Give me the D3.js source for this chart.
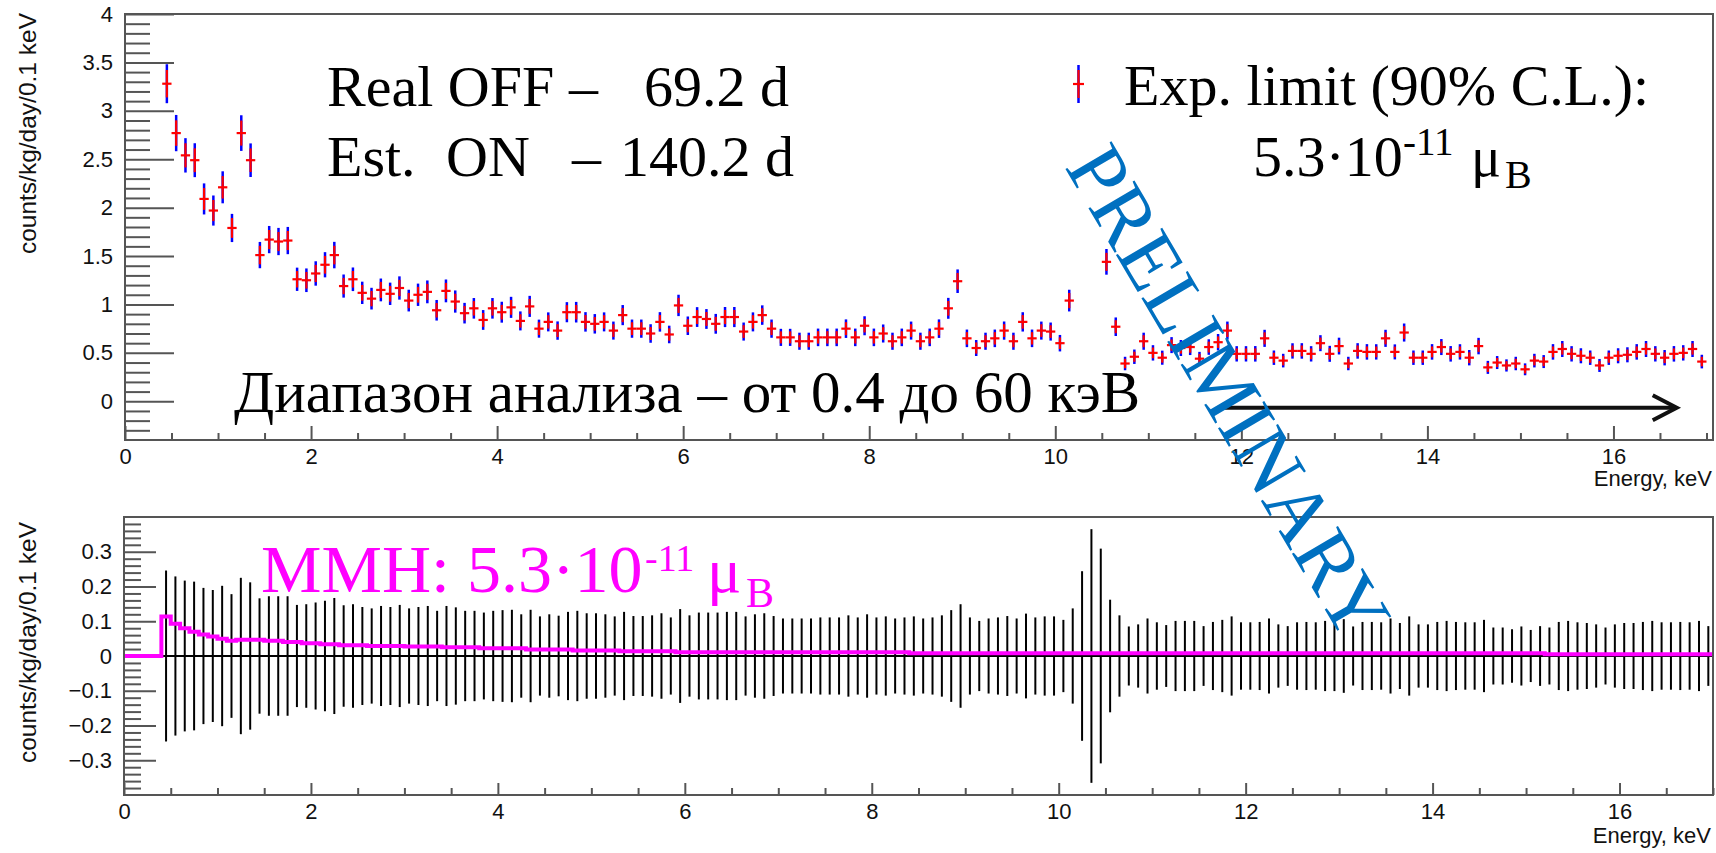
<!DOCTYPE html>
<html>
<head>
<meta charset="utf-8">
<style>
body { margin: 0; background: #fff; }
svg { display: block; }
.serif { font-family: "Liberation Serif", "Times New Roman", serif; fill: #000; }
.sans { font-family: "Liberation Sans", Arial, sans-serif; fill: #111; }
.axis text { font-family: "Liberation Sans", Arial, sans-serif; font-size: 22px; fill: #111; }
.axis line { stroke: #555; stroke-width: 2; }
</style>
</head>
<body>
<svg id="chart" width="1716" height="853"></svg>
<script src="https://cdn.jsdelivr.net/npm/d3@7/dist/d3.min.js"></script>
<script>
// 0.1 keV bins starting at 0.4 keV
var binStart = 0.4, binWidth = 0.1;

// counts/kg/day/0.1 keV, null = bin not shown
var offRate = [
  3.28, 2.77, 2.54, 2.49, 2.09, 1.97, 2.21, 1.79, 2.77, 2.49,
  1.51, 1.67, 1.65, 1.66, 1.26, 1.25, 1.32, 1.41, 1.51, 1.19,
  1.26, 1.12, 1.06, 1.15, 1.11, 1.17, 1.04, 1.10, 1.13, 0.94,
  1.14, 1.03, 0.91, 0.96, 0.84, 0.96, 0.92, 0.97, 0.83, 0.98,
  0.75, 0.82, 0.73, 0.92, 0.92, 0.82, 0.80, 0.82, 0.73, 0.89,
  0.75, 0.75, 0.70, 0.82, 0.69, 0.99, 0.78, 0.87, 0.85, 0.80,
  0.87, 0.87, 0.72, 0.82, 0.89, 0.75, 0.66, 0.66, 0.62, 0.62,
  0.66, 0.66, 0.66, 0.75, 0.66, 0.78, 0.66, 0.70, 0.62, 0.66,
  0.73, 0.62, 0.66, 0.75, 0.96, 1.24, 0.65, 0.55, 0.62, 0.65,
  0.73, 0.62, 0.82, 0.65, 0.73, 0.72, 0.60, 1.04, null, null,
  null, 1.44, 0.77, 0.39, 0.46, 0.62, 0.50, 0.45, 0.58, 0.55,
  0.56, 0.44, 0.56, 0.61, 0.73, 0.49, 0.49, 0.49, 0.65, 0.45,
  0.42, 0.52, 0.52, 0.49, 0.60, 0.49, 0.57, 0.39, 0.52, 0.51,
  0.51, 0.65, 0.51, 0.71, 0.45, 0.45, 0.51, 0.56, 0.49, 0.51,
  0.45, 0.57, 0.35, 0.40, 0.37, 0.39, 0.33, 0.42, 0.41, 0.51,
  0.54, 0.49, 0.47, 0.45, 0.37, 0.45, 0.47, 0.48, 0.51, 0.54,
  0.49, 0.45, 0.49, 0.50, 0.54, 0.41
];

// error of ON - OFF difference (lower panel)
var diffErr = [
  0.246, 0.229, 0.217, 0.214, 0.196, 0.190, 0.202, 0.178, 0.225, 0.212,
  0.166, 0.172, 0.172, 0.172, 0.147, 0.149, 0.154, 0.159, 0.167, 0.146,
  0.149, 0.141, 0.137, 0.144, 0.141, 0.147, 0.137, 0.141, 0.144, 0.130,
  0.144, 0.140, 0.130, 0.130, 0.125, 0.130, 0.132, 0.133, 0.120, 0.133,
  0.114, 0.120, 0.116, 0.127, 0.130, 0.123, 0.123, 0.120, 0.114, 0.127,
  0.115, 0.115, 0.117, 0.123, 0.111, 0.135, 0.117, 0.125, 0.125, 0.125,
  0.127, 0.127, 0.114, 0.120, 0.123, 0.115, 0.108, 0.108, 0.108, 0.108,
  0.111, 0.111, 0.111, 0.117, 0.111, 0.120, 0.111, 0.114, 0.108, 0.111,
  0.114, 0.108, 0.111, 0.117, 0.132, 0.149, 0.111, 0.101, 0.108, 0.111,
  0.115, 0.108, 0.122, 0.111, 0.114, 0.114, 0.104, 0.137, 0.244, 0.365,
  0.309, 0.162, 0.117, 0.085, 0.091, 0.108, 0.097, 0.089, 0.101, 0.101,
  0.101, 0.086, 0.098, 0.104, 0.114, 0.097, 0.097, 0.098, 0.108, 0.091,
  0.086, 0.097, 0.098, 0.097, 0.101, 0.101, 0.106, 0.085, 0.098, 0.098,
  0.097, 0.108, 0.095, 0.114, 0.091, 0.091, 0.098, 0.101, 0.098, 0.097,
  0.097, 0.104, 0.082, 0.082, 0.077, 0.085, 0.075, 0.086, 0.082, 0.098,
  0.101, 0.097, 0.095, 0.091, 0.082, 0.091, 0.095, 0.095, 0.098, 0.101,
  0.097, 0.097, 0.098, 0.097, 0.101, 0.086
];

// expected magnetic moment signal, [step start keV, value]
var mmhSteps = [
  [0, 0], [0.4, 0.114], [0.5, 0.093], [0.6, 0.080], [0.7, 0.070], [0.8, 0.062],
  [0.9, 0.056], [1.0, 0.050], [1.1, 0.044], [1.2, 0.047], [1.5, 0.044], [1.7, 0.040],
  [1.9, 0.037], [2.1, 0.034], [2.3, 0.031], [2.6, 0.029], [3.0, 0.027], [3.4, 0.025],
  [3.8, 0.022], [4.3, 0.019], [4.8, 0.016], [5.3, 0.014], [5.9, 0.011], [8.4, 0.008],
  [15.2, 0.005], [17, 0.005]
];

var daysOff = 69.2, daysOn = 140.2;

var topYTicks = [0, 0.5, 1, 1.5, 2, 2.5, 3, 3.5, 4];
var botYTicks = [-0.3, -0.2, -0.1, 0, 0.1, 0.2, 0.3];
var xTicks = [0, 2, 4, 6, 8, 10, 12, 14, 16];

var svg = d3.select("#chart");

var xTop = d3.scaleLinear().domain([0, 17.07]).range([125, 1713]);
var yTop = d3.scaleLinear().domain([-0.4, 4]).range([440, 14]);
var xBot = d3.scaleLinear().domain([0, 17]).range([124, 1713]);
var yBot = d3.scaleLinear().domain([-0.4, 0.4]).range([795, 517]);

var bins = offRate.map(function(v, i){
  var e = diffErr[i];
  return {
    x: binStart + binWidth * (i + 0.5),
    rate: v,
    err: e,
    errOff: e * Math.sqrt(daysOn / (daysOn + daysOff)),
    errOn: e * Math.sqrt(daysOff / (daysOn + daysOff))
  };
});

var fmt = d3.format("~g");
var xMinor = d3.range(1, 35).filter(function(k){ return k % 4 != 0; }).map(function(k){ return k * 0.5; });

function drawAxes(x, y, yMajor, yMinor, ySize, xSize){
  var g;
  g = svg.append("g").attr("class", "axis").attr("transform", "translate(" + x.range()[0] + ",0)")
    .call(d3.axisLeft(y).tickValues(yMinor).tickSize(-ySize[1]).tickFormat(""));
  g.select(".domain").remove();
  g = svg.append("g").attr("class", "axis").attr("transform", "translate(" + x.range()[0] + ",0)")
    .call(d3.axisLeft(y).tickValues(yMajor).tickSize(-ySize[0]).tickPadding(12).tickFormat(fmt));
  g.select(".domain").remove();

  g = svg.append("g").attr("class", "axis").attr("transform", "translate(0," + y.range()[0] + ")")
    .call(d3.axisBottom(x).tickValues(xMinor.filter(function(v){ return v <= x.domain()[1]; })).tickSize(-xSize[1]).tickFormat(""));
  g.select(".domain").remove();
  g = svg.append("g").attr("class", "axis").attr("transform", "translate(0," + y.range()[0] + ")")
    .call(d3.axisBottom(x).tickValues(xTicks).tickSize(-xSize[0]).tickPadding(8).tickFormat(fmt));
  g.select(".domain").remove();
}

var topMinor = d3.range(-3, 40).filter(function(k){ return k % 5 != 0; }).map(function(k){ return k / 10; });
var botMinor = d3.range(-19, 20).filter(function(k){ return k % 5 != 0; }).map(function(k){ return k * 0.02; });

drawAxes(xTop, yTop, topYTicks, topMinor, [49, 25], [14, 7]);
drawAxes(xBot, yBot, botYTicks, botMinor, [32, 17], [12, 7]);

// upper panel points
var pts = svg.append("g");
var shown = bins.filter(function(d){ return d.rate != null; });

pts.selectAll(".eoff").data(shown).enter().append("line")
  .attr("x1", function(d){ return xTop(d.x); })
  .attr("x2", function(d){ return xTop(d.x); })
  .attr("y1", function(d){ return yTop(d.rate - d.errOff); })
  .attr("y2", function(d){ return yTop(d.rate + d.errOff); })
  .attr("stroke", "#0000ff").attr("stroke-width", 2.5);

pts.selectAll(".eon").data(shown).enter().append("line")
  .attr("x1", function(d){ return xTop(d.x); })
  .attr("x2", function(d){ return xTop(d.x); })
  .attr("y1", function(d){ return yTop(d.rate - d.errOn); })
  .attr("y2", function(d){ return yTop(d.rate + d.errOn); })
  .attr("stroke", "#ff0000").attr("stroke-width", 2.2);

pts.selectAll(".ex").data(shown).enter().append("line")
  .attr("x1", function(d){ return xTop(d.x - binWidth / 2); })
  .attr("x2", function(d){ return xTop(d.x + binWidth / 2); })
  .attr("y1", function(d){ return yTop(d.rate); })
  .attr("y2", function(d){ return yTop(d.rate); })
  .attr("stroke", "#ff0000").attr("stroke-width", 2.2);

// lower panel
var low = svg.append("g");
low.append("line")
  .attr("x1", xBot(binStart)).attr("x2", xBot(17))
  .attr("y1", yBot(0)).attr("y2", yBot(0))
  .attr("stroke", "#000").attr("stroke-width", 1.8);

low.selectAll(".err").data(bins).enter().append("line")
  .attr("x1", function(d){ return xBot(d.x); })
  .attr("x2", function(d){ return xBot(d.x); })
  .attr("y1", function(d){ return yBot(-d.err); })
  .attr("y2", function(d){ return yBot(d.err); })
  .attr("stroke", "#000").attr("stroke-width", 2);

var stepLine = d3.line()
  .x(function(d){ return xBot(d[0]); })
  .y(function(d){ return yBot(d[1]); })
  .curve(d3.curveStepAfter);

low.append("path").datum(mmhSteps)
  .attr("d", stepLine)
  .attr("fill", "none").attr("stroke", "#ff00ff").attr("stroke-width", 4);

// frames
[[xTop, yTop], [xBot, yBot]].forEach(function(p){
  svg.append("rect")
    .attr("x", p[0].range()[0]).attr("y", p[1].range()[1])
    .attr("width", p[0].range()[1] - p[0].range()[0])
    .attr("height", p[1].range()[0] - p[1].range()[1])
    .attr("fill", "none").attr("stroke", "#555").attr("stroke-width", 2);
});

// axis titles
svg.append("text").attr("class", "sans").attr("font-size", 24.5)
  .attr("text-anchor", "end").attr("transform", "translate(36,13) rotate(-90)")
  .text("counts/kg/day/0.1 keV");
svg.append("text").attr("class", "sans").attr("font-size", 24.5)
  .attr("text-anchor", "end").attr("transform", "translate(36,522) rotate(-90)")
  .text("counts/kg/day/0.1 keV");
svg.append("text").attr("class", "sans").attr("font-size", 22)
  .attr("text-anchor", "end").attr("x", 1712).attr("y", 486).text("Energy, keV");
svg.append("text").attr("class", "sans").attr("font-size", 22)
  .attr("text-anchor", "end").attr("x", 1711).attr("y", 843).text("Energy, keV");

// annotations
function label(x, y, size, str, color){
  return svg.append("text").attr("class", "serif")
    .attr("x", x).attr("y", y).attr("font-size", size)
    .style("fill", color || "#000").text(str);
}

// one text with positioned pieces: [string, x, y, size]
function richLabel(parts, color){
  var t = svg.append("text").attr("class", "serif").style("fill", color || "#000");
  parts.forEach(function(p){
    t.append("tspan").attr("x", p[1]).attr("y", p[2]).attr("font-size", p[3]).text(p[0]);
  });
  return t;
}

label(327, 106, 58, "Real OFF");
label(569, 106, 58, "\u2013");
label(644, 106, 58, "69.2 d");
label(327, 176, 58, "Est.");
label(446, 176, 58, "ON");
label(572, 176, 58, "\u2013");
label(620, 176, 58, "140.2 d");

// legend marker
var lx = 1078.5, ly = 84;
svg.append("line").attr("x1", lx).attr("x2", lx).attr("y1", ly - 19).attr("y2", ly + 19)
  .attr("stroke", "#0000ff").attr("stroke-width", 2.5);
svg.append("line").attr("x1", lx).attr("x2", lx).attr("y1", ly - 14).attr("y2", ly + 14)
  .attr("stroke", "#ff0000").attr("stroke-width", 2.2);
svg.append("line").attr("x1", lx - 5.5).attr("x2", lx + 5.5).attr("y1", ly).attr("y2", ly)
  .attr("stroke", "#ff0000").attr("stroke-width", 2.2);

label(1124, 105, 58, "Exp. limit (90% C.L.):");
richLabel([
  ["5.3\u00b710", 1253, 176, 58],
  ["-11", 1403, 155, 39],
  ["\u03bc", 1471, 176, 56],
  ["B", 1505, 188, 40]
]);

label(234, 412, 59, "\u0414\u0438\u0430\u043f\u0430\u0437\u043e\u043d \u0430\u043d\u0430\u043b\u0438\u0437\u0430 \u2013 \u043e\u0442 0.4 \u0434\u043e 60 \u043a\u044d\u0412");

// analysis range arrow
var ay = yTop(-0.066), ax0 = xTop(11.77), ax1 = xTop(16.68);
svg.append("line").attr("x1", ax0).attr("x2", ax1 - 2).attr("y1", ay).attr("y2", ay)
  .attr("stroke", "#111").attr("stroke-width", 4);
svg.append("path")
  .attr("d", "M" + (ax1 - 24) + "," + (ay - 12.5) + "L" + ax1 + "," + ay + "L" + (ax1 - 24) + "," + (ay + 12.5))
  .attr("fill", "none").attr("stroke", "#111").attr("stroke-width", 4);

richLabel([
  ["MMH: 5.3\u00b710", 261, 592, 68],
  ["-11", 645, 571, 38],
  ["\u03bc", 707, 592, 64],
  ["B", 746, 607, 42]
], "#ff00ff");

// watermark
svg.append("text").attr("class", "serif")
  .attr("font-size", 82).attr("text-anchor", "middle")
  .attr("transform", "translate(1205,406) rotate(59.5)")
  .style("fill", "#0070c0")
  .text("PRELIMINARY");
</script>
</body>
</html>
